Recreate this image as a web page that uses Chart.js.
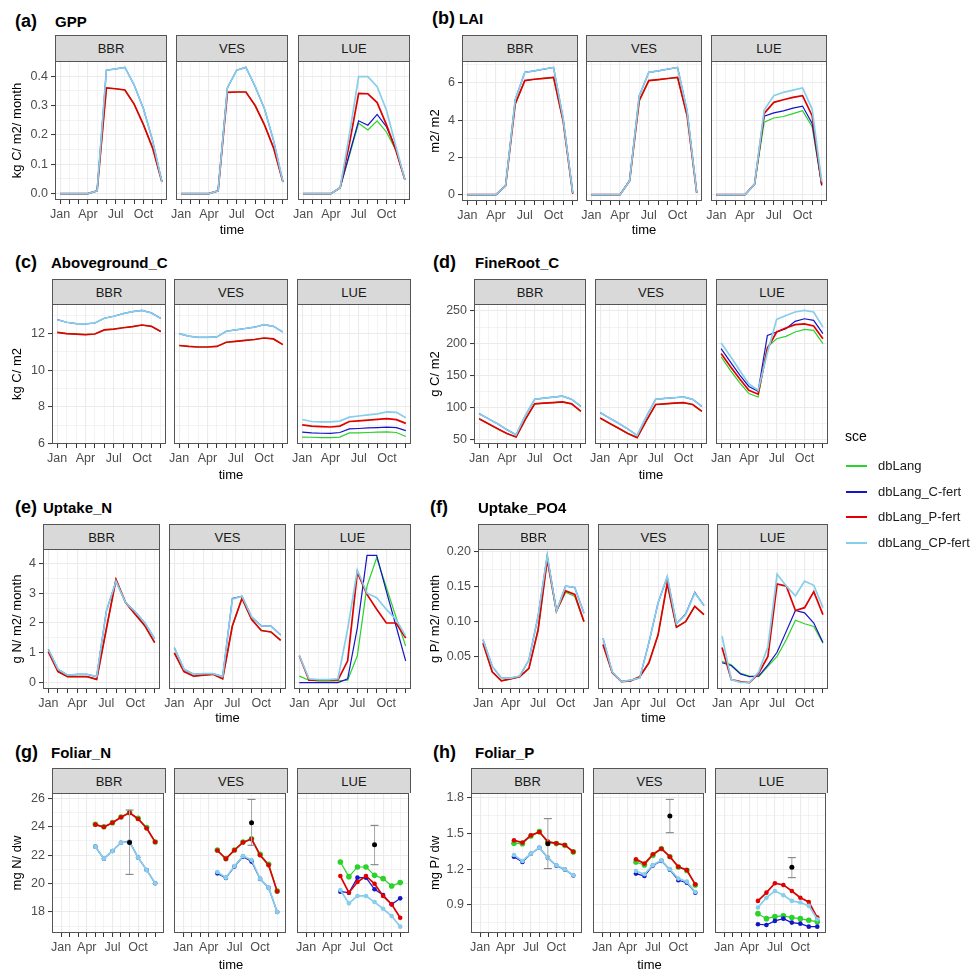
<!DOCTYPE html>
<html>
<head>
<meta charset="utf-8">
<script src="https://cdn.jsdelivr.net/npm/chart.js@4.4.1/dist/chart.umd.min.js"></script>
<style>
  body { margin: 0; background: #fff; font-family: "Liberation Sans", Arial, sans-serif; }
  #page { position: relative; width: 976px; height: 974px; overflow: hidden; }
  #page canvas { position: absolute; }
  .tag { position: absolute; font-weight: bold; font-size: 18px; line-height: 20px; color: #000; }
  .ttl { position: absolute; font-weight: bold; font-size: 15px; line-height: 18px; color: #000; }
  .strip { position: absolute; box-sizing: border-box; background: #d9d9d9; border: 1px solid #555; border-bottom: none;
           text-align: center; font-size: 13px; color: #1a1a1a; }
  .xt { position: absolute; font-size: 13px; line-height: 16px; color: #000; transform: translateX(-50%); }
  .leg { position: absolute; font-size: 13px; line-height: 16px; color: #1a1a1a; }
  .key { position: absolute; width: 21px; height: 2px; }
</style>
</head>
<body>
<div id="page"></div>
<script>
// ---- data ----
const months = ['Jan', 'Feb', 'Mar', 'Apr', 'May', 'Jun', 'Jul', 'Aug', 'Sep', 'Oct', 'Nov', 'Dec'];
const monthLabels = ['Jan', '', '', 'Apr', '', '', 'Jul', '', '', 'Oct', '', ''];
const sites = ['BBR', 'VES', 'LUE'];
const scenarios = ['dbLang', 'dbLang_C-fert', 'dbLang_P-fert', 'dbLang_CP-fert'];
const foliarMonths = [4, 5, 6, 7, 8, 9, 10, 11];
const obsMonth = 8;

// each site: rows dbLang, C-fert, P-fert, CP-fert
const gppBBR = [
  [0, 0, 0, 0, 0.01, 0.36, 0.357, 0.353, 0.305, 0.235, 0.155, 0.04],
  [0, 0, 0, 0, 0.01, 0.42, 0.425, 0.43, 0.37, 0.29, 0.18, 0.04],
  [0, 0, 0, 0, 0.01, 0.36, 0.357, 0.353, 0.305, 0.235, 0.155, 0.04],
  [0, 0, 0, 0, 0.01, 0.42, 0.425, 0.43, 0.37, 0.29, 0.18, 0.04]];
const gppVES = [
  [0, 0, 0, 0, 0.01, 0.345, 0.346, 0.346, 0.3, 0.235, 0.155, 0.04],
  [0, 0, 0, 0, 0.01, 0.36, 0.42, 0.43, 0.365, 0.29, 0.18, 0.04],
  [0, 0, 0, 0, 0.01, 0.345, 0.346, 0.346, 0.3, 0.235, 0.155, 0.04],
  [0, 0, 0, 0, 0.01, 0.36, 0.42, 0.43, 0.365, 0.29, 0.18, 0.04]];
const gppLUE = [
  [0, 0, 0, 0, 0.02, 0.13, 0.24, 0.217, 0.248, 0.21, 0.15, 0.047],
  [0, 0, 0, 0, 0.02, 0.135, 0.248, 0.233, 0.27, 0.228, 0.155, 0.047],
  [0, 0, 0, 0, 0.02, 0.17, 0.341, 0.34, 0.31, 0.235, 0.15, 0.047],
  [0, 0, 0, 0, 0.02, 0.2, 0.398, 0.398, 0.364, 0.285, 0.165, 0.047]];
const gppTicks = ['0.0', '0.1', '0.2', '0.3', '0.4'];

const laiBBR = [
  [0, 0, 0, 0, 0.48, 4.87, 6.13, 6.2, 6.25, 6.3, 3.95, 0.05],
  [0, 0, 0, 0, 0.48, 5.1, 6.57, 6.65, 6.75, 6.84, 4.1, 0.09],
  [0, 0, 0, 0, 0.48, 4.87, 6.13, 6.2, 6.25, 6.3, 3.95, 0.05],
  [0, 0, 0, 0, 0.48, 5.1, 6.57, 6.65, 6.75, 6.84, 4.1, 0.09]];
const laiVES = [
  [0, 0, 0, 0, 0.75, 5.05, 6.13, 6.18, 6.24, 6.3, 4.24, 0.1],
  [0, 0, 0, 0, 0.75, 5.3, 6.57, 6.65, 6.75, 6.84, 4.5, 0.1],
  [0, 0, 0, 0, 0.75, 5.05, 6.13, 6.18, 6.24, 6.3, 4.24, 0.1],
  [0, 0, 0, 0, 0.75, 5.3, 6.57, 6.65, 6.75, 6.84, 4.5, 0.1]];
const laiLUE = [
  [0, 0, 0, 0, 0.57, 3.89, 4.12, 4.2, 4.35, 4.51, 3.65, 0.5],
  [0, 0, 0, 0, 0.57, 4.21, 4.39, 4.5, 4.65, 4.76, 3.83, 0.5],
  [0, 0, 0, 0, 0.57, 4.37, 4.96, 5.1, 5.23, 5.32, 4.24, 0.55],
  [0, 0, 0, 0, 0.57, 4.55, 5.32, 5.5, 5.62, 5.73, 4.6, 0.7]];
const laiTicks = ['0', '2', '4', '6'];

const agcBBR = [
  [12.07, 12.0, 11.97, 11.95, 11.98, 12.2, 12.25, 12.32, 12.38, 12.47, 12.4, 12.11],
  [12.76, 12.62, 12.55, 12.53, 12.58, 12.84, 12.95, 13.09, 13.2, 13.27, 13.13, 12.82],
  [12.07, 12.0, 11.97, 11.95, 11.98, 12.2, 12.25, 12.32, 12.38, 12.47, 12.4, 12.11],
  [12.76, 12.62, 12.55, 12.53, 12.58, 12.84, 12.95, 13.09, 13.2, 13.27, 13.13, 12.82]];
const agcVES = [
  [11.35, 11.3, 11.27, 11.27, 11.3, 11.53, 11.58, 11.63, 11.68, 11.76, 11.71, 11.4],
  [12.0, 11.86, 11.8, 11.8, 11.82, 12.13, 12.2, 12.28, 12.35, 12.49, 12.4, 12.09],
  [11.35, 11.3, 11.27, 11.27, 11.3, 11.53, 11.58, 11.63, 11.68, 11.76, 11.71, 11.4],
  [12.0, 11.86, 11.8, 11.8, 11.82, 12.13, 12.2, 12.28, 12.35, 12.49, 12.4, 12.09]];
const agcLUE = [
  [6.35, 6.34, 6.32, 6.32, 6.35, 6.58, 6.58, 6.6, 6.62, 6.63, 6.6, 6.38],
  [6.62, 6.58, 6.56, 6.55, 6.6, 6.8, 6.82, 6.85, 6.87, 6.89, 6.87, 6.7],
  [7.02, 6.95, 6.92, 6.9, 6.95, 7.2, 7.24, 7.28, 7.32, 7.36, 7.3, 7.1],
  [7.31, 7.2, 7.18, 7.18, 7.22, 7.44, 7.5, 7.56, 7.62, 7.73, 7.7, 7.4]];
const agcTicks = ['6', '8', '10', '12'];

const frcBBR = [
  [83, 75, 67.5, 60, 54.6, 82, 106, 107, 108, 109, 106, 94.4],
  [90.8, 83, 75, 66, 58, 88, 113, 115, 116.5, 118, 113, 102],
  [83, 75, 67.5, 60, 54.6, 82, 106, 107, 108, 109, 106, 94.4],
  [90.8, 83, 75, 66, 58, 88, 113, 115, 116.5, 118, 113, 102]];
const frcVES = [
  [84, 76, 68, 60, 53.6, 80, 105, 106, 107, 108, 105, 94.4],
  [92.4, 84, 76, 67, 57, 86, 113, 114.5, 115.5, 116.7, 113, 102],
  [84, 76, 68, 60, 53.6, 80, 105, 106, 107, 108, 105, 94.4],
  [92.4, 84, 76, 67, 57, 86, 113, 114.5, 115.5, 116.7, 113, 102]];
const frcLUE = [
  [179, 158, 139, 122, 116.7, 194, 207, 210.7, 217.4, 221.6, 220, 199.4],
  [191.6, 171, 151, 133, 125.5, 212, 217.4, 222.6, 234, 238, 235.5, 215],
  [184, 164, 145, 127, 121, 191.6, 217.4, 223.6, 228.8, 230, 226.7, 207],
  [200.4, 180, 158, 137, 127, 185, 237, 243, 248.5, 251, 248.5, 225]];
const frcTicks = ['50', '100', '150', '200', '250'];

const upnBBR = [
  [1.04, 0.37, 0.2, 0.2, 0.2, 0.11, 1.8, 3.46, 2.68, 2.29, 1.9, 1.34],
  [1.12, 0.45, 0.25, 0.28, 0.28, 0.2, 2.4, 3.4, 2.68, 2.37, 2.0, 1.47],
  [1.04, 0.37, 0.2, 0.2, 0.2, 0.11, 1.8, 3.46, 2.68, 2.29, 1.9, 1.34],
  [1.12, 0.45, 0.25, 0.28, 0.28, 0.2, 2.4, 3.4, 2.68, 2.37, 2.0, 1.47]];
const upnVES = [
  [1.0, 0.37, 0.22, 0.25, 0.28, 0.13, 1.9, 2.83, 2.12, 1.75, 1.7, 1.42],
  [1.17, 0.45, 0.28, 0.3, 0.3, 0.2, 2.82, 2.9, 2.2, 1.9, 1.9, 1.6],
  [1.0, 0.37, 0.22, 0.25, 0.28, 0.13, 1.9, 2.83, 2.12, 1.75, 1.7, 1.42],
  [1.17, 0.45, 0.28, 0.3, 0.3, 0.2, 2.8, 2.9, 2.2, 1.9, 1.9, 1.6]];
const upnLUE = [
  [0.22, 0.08, 0.05, 0.05, 0.06, 0.08, 0.9, 3.24, 4.19, 3.2, 2.2, 1.23],
  [0.0, 0.0, 0.0, 0.0, 0.0, 0.13, 1.84, 4.27, 4.27, 3.07, 1.9, 0.73],
  [0.9, 0.08, 0.08, 0.08, 0.09, 0.73, 3.7, 2.96, 2.46, 2.0, 2.0, 1.5],
  [0.92, 0.13, 0.1, 0.1, 0.13, 1.8, 3.78, 3.0, 2.85, 2.46, 2.12, 1.56]];
const upnTicks = ['0', '1', '2', '3', '4'];

const uppBBR = [
  [0.069, 0.028, 0.015, 0.018, 0.021, 0.033, 0.088, 0.189, 0.115, 0.142, 0.136, 0.1],
  [0.074, 0.036, 0.019, 0.019, 0.022, 0.045, 0.108, 0.195, 0.115, 0.151, 0.149, 0.112],
  [0.069, 0.028, 0.015, 0.018, 0.021, 0.033, 0.088, 0.189, 0.115, 0.144, 0.139, 0.1],
  [0.074, 0.036, 0.019, 0.019, 0.022, 0.045, 0.108, 0.195, 0.115, 0.151, 0.149, 0.112]];
const uppVES = [
  [0.067, 0.027, 0.014, 0.015, 0.021, 0.041, 0.081, 0.155, 0.092, 0.1, 0.122, 0.11],
  [0.076, 0.028, 0.014, 0.016, 0.019, 0.07, 0.127, 0.164, 0.097, 0.111, 0.142, 0.123],
  [0.067, 0.027, 0.014, 0.015, 0.021, 0.041, 0.081, 0.155, 0.092, 0.1, 0.122, 0.11],
  [0.076, 0.028, 0.014, 0.016, 0.019, 0.07, 0.127, 0.165, 0.097, 0.11, 0.141, 0.123]];
const uppLUE = [
  [0.043, 0.038, 0.026, 0.022, 0.021, 0.036, 0.05, 0.074, 0.102, 0.097, 0.093, 0.069],
  [0.041, 0.037, 0.025, 0.021, 0.022, 0.038, 0.056, 0.086, 0.116, 0.1125, 0.098, 0.07],
  [0.063, 0.017, 0.014, 0.0125, 0.026, 0.05, 0.154, 0.151, 0.116, 0.12, 0.143, 0.11],
  [0.079, 0.017, 0.013, 0.013, 0.028, 0.064, 0.168, 0.151, 0.137, 0.158, 0.152, 0.12]];
const uppTicks = ['0.05', '0.10', '0.15', '0.20'];

// foliar: May..Dec
const folnBBR = [
  [24.17, 24.0, 24.29, 24.69, 25.0, 24.6, 23.94, 22.93],
  [22.6, 21.75, 22.3, 22.88, 22.95, 21.83, 20.96, 20.02],
  [24.15, 23.98, 24.28, 24.67, 24.98, 24.55, 23.9, 22.93],
  [22.6, 21.75, 22.3, 22.88, 22.95, 21.83, 20.96, 20.02]];
const folnVES = [
  [22.37, 21.76, 22.37, 22.93, 23.16, 22.06, 21.36, 19.48],
  [20.72, 20.4, 21.2, 21.9, 21.55, 20.33, 19.7, 18.0],
  [22.33, 21.74, 22.35, 22.9, 23.14, 22.0, 21.3, 19.45],
  [20.82, 20.42, 21.24, 21.94, 21.66, 20.35, 19.71, 18.0]];
const folnLUE = [
  [21.52, 20.49, 21.17, 21.17, 20.58, 20.35, 19.83, 20.07],
  [19.43, 19.36, 20.42, 20.42, 19.6, 19.2, 18.54, 18.96],
  [20.53, 19.36, 20.11, 20.53, 19.99, 19.13, 18.54, 17.6],
  [19.55, 18.61, 19.13, 19.13, 18.7, 18.23, 17.72, 16.97]];
const folnTicks = ['18', '20', '22', '24', '26'];
const folnObs = [22.9, 24.29, 22.74];
const folnObsLo = [20.65, 22.7, 21.33];
const folnObsHi = [25.18, 25.93, 24.1];

const folpBBR = [
  [1.417, 1.414, 1.479, 1.515, 1.423, 1.415, 1.4, 1.345],
  [1.305, 1.26, 1.33, 1.38, 1.295, 1.23, 1.198, 1.147],
  [1.442, 1.423, 1.484, 1.512, 1.431, 1.417, 1.403, 1.347],
  [1.319, 1.269, 1.33, 1.381, 1.297, 1.233, 1.2, 1.149]];
const folpVES = [
  [1.26, 1.235, 1.316, 1.372, 1.305, 1.218, 1.19, 1.068],
  [1.163, 1.143, 1.232, 1.27, 1.195, 1.107, 1.087, 1.003],
  [1.283, 1.247, 1.325, 1.372, 1.305, 1.221, 1.193, 1.073],
  [1.185, 1.157, 1.235, 1.274, 1.199, 1.121, 1.096, 1.009]];
const folpLUE = [
  [0.827, 0.785, 0.802, 0.808, 0.794, 0.785, 0.771, 0.76],
  [0.738, 0.732, 0.766, 0.785, 0.752, 0.743, 0.718, 0.718],
  [0.934, 1.003, 1.082, 1.068, 1.017, 0.961, 0.925, 0.794],
  [0.878, 0.961, 1.017, 0.981, 0.934, 0.92, 0.892, 0.78]];
const folpTicks = ['0.9', '1.2', '1.5', '1.8'];
const folpObs = [1.414, 1.646, 1.216];
const folpObsLo = [1.205, 1.506, 1.129];
const folpObsHi = [1.624, 1.786, 1.297];

// ---- layout / styling ----
const FONT = '"Liberation Sans", Arial, sans-serif';
const colors = ['#2ad22a', '#1414c8', '#e00000', '#87ceeb'];
const drawOrder = [4, 3, 2, 1];       // CP-fert on top, dbLang at the bottom
const lineWidths = [1.2, 1.2, 1.7, 1.7]; // lower lines a bit thinner so the covering ones hide them

const panels = [
  { tag: '(a)', name: 'GPP', ytitle: 'kg C/ m2/ month', ticks: gppTicks, data: [gppBBR, gppVES, gppLUE],
    col: 0, tagX: 15, nameX: 55, labelY: 11, lefts: [55, 176, 298], w: 112, strip: 35, top: 61, bottom: 200, timeY: 222 },
  { tag: '(b)', name: 'LAI', ytitle: 'm2/ m2', ticks: laiTicks, data: [laiBBR, laiVES, laiLUE],
    col: 1, tagX: 432, nameX: 459, labelY: 8, lefts: [462, 586, 711], w: 116, strip: 35, top: 61, bottom: 201, timeY: 222 },
  { tag: '(c)', name: 'Aboveground_C', ytitle: 'kg C/ m2', ticks: agcTicks, data: [agcBBR, agcVES, agcLUE],
    col: 0, tagX: 15, nameX: 51, labelY: 252, lefts: [52, 174, 297], w: 114, strip: 279, top: 304, bottom: 444, timeY: 467 },
  { tag: '(d)', name: 'FineRoot_C', ytitle: 'g C/ m2', ticks: frcTicks, data: [frcBBR, frcVES, frcLUE],
    col: 1, tagX: 433, nameX: 475, labelY: 252, lefts: [474, 595, 716], w: 112, strip: 279, top: 304, bottom: 444, timeY: 467 },
  { tag: '(e)', name: 'Uptake_N', ytitle: 'g N/ m2/ month', ticks: upnTicks, data: [upnBBR, upnVES, upnLUE],
    col: 0, tagX: 15, nameX: 43, labelY: 497, lefts: [43, 169, 294], w: 117, strip: 524, top: 549, bottom: 689, timeY: 710 },
  { tag: '(f)', name: 'Uptake_PO4', ytitle: 'g P/ m2/ month', ticks: uppTicks, data: [uppBBR, uppVES, uppLUE],
    col: 1, tagX: 430, nameX: 478, labelY: 497, lefts: [478, 598, 717], w: 111, strip: 524, top: 549, bottom: 689, timeY: 710 },
  { tag: '(g)', name: 'Foliar_N', ytitle: 'mg N/ dw', ticks: folnTicks, data: [folnBBR, folnVES, folnLUE],
    obs: folnObs, obsLo: folnObsLo, obsHi: folnObsHi,
    col: 0, tagX: 15, nameX: 51, labelY: 742, lefts: [52, 174, 297], w: 114, strip: 768, top: 793, bottom: 933, timeY: 957 },
  { tag: '(h)', name: 'Foliar_P', ytitle: 'mg P/ dw', ticks: folpTicks, data: [folpBBR, folpVES, folpLUE],
    obs: folpObs, obsLo: folpObsLo, obsHi: folpObsHi,
    col: 1, tagX: 433, nameX: 475, labelY: 742, lefts: [471, 593, 715], w: 113, strip: 768, top: 793, bottom: 933, timeY: 957 }
];

const page = document.getElementById('page');

function addDiv(cls, text, css) {
  const d = document.createElement('div');
  d.className = cls;
  d.textContent = text;
  Object.assign(d.style, css);
  page.appendChild(d);
  return d;
}

// ggplot-like 5% expansion of the data range
function expandRange(vals) {
  const lo = Math.min(...vals), hi = Math.max(...vals), d = (hi - lo) * 0.05;
  return [lo - d, hi + d];
}

const framePlugin = {
  id: 'frame',
  afterDraw(chart) {
    const { ctx, chartArea: a } = chart;
    ctx.save();
    ctx.strokeStyle = '#555';
    ctx.lineWidth = 1;
    ctx.strokeRect(Math.round(a.left) + 0.5, Math.round(a.top) + 0.5,
      Math.round(a.right - a.left) - 1, Math.round(a.bottom - a.top) - 1);
    ctx.restore();
  }
};

function makeFacet(p, f, yMin, yMax, yVals, majors) {
  const cs = p.col ? 420 : 0;
  const cl = f === 0 ? cs : p.lefts[f] - 6;
  const yw = p.lefts[f] - cl;
  const cw = p.lefts[f] + p.w + 3 - cl;
  const ch = p.bottom - p.top + 6 + 24;
  const cv = document.createElement('canvas');
  cv.width = cw; cv.height = ch;
  cv.style.left = cl + 'px'; cv.style.top = (p.top - 6) + 'px';
  page.appendChild(cv);

  const foliar = !!p.obs;
  const xs = foliar ? foliarMonths : months.map((m, i) => i);
  const isMajor = v => majors.some(m => Math.abs(m - v) < 1e-9);
  const labelOf = v => { const i = majors.findIndex(m => Math.abs(m - v) < 1e-9); return i >= 0 ? p.ticks[i] : ''; };

  const datasets = p.data[f].map((row, s) => ({
    label: scenarios[s],
    data: row.map((v, i) => ({ x: xs[i], y: v })),
    borderColor: colors[s],
    backgroundColor: colors[s],
    borderWidth: lineWidths[s],
    pointRadius: foliar ? (s === 0 ? 2.8 : 2.3) : 0,
    pointBorderWidth: 0,
    order: drawOrder[s]
  }));
  if (foliar) {
    datasets.push({
      label: 'obs range',
      data: [{ x: obsMonth, y: p.obsLo[f] }, { x: obsMonth, y: p.obsHi[f] }],
      borderColor: '#a8a8a8', borderWidth: 1,
      pointStyle: 'line', pointRadius: 4, pointBorderColor: '#777', pointBorderWidth: 1,
      order: 0
    });
    datasets.push({
      label: 'obs',
      data: [{ x: obsMonth, y: p.obs[f] }],
      showLine: false, pointRadius: 2.5, pointBackgroundColor: '#000', pointBorderWidth: 0,
      order: -1
    });
  }

  new Chart(cv.getContext('2d'), {
    type: 'line',
    data: { datasets },
    options: {
      responsive: false, animation: false, devicePixelRatio: 1,
      layout: { padding: { top: 6, right: 3, left: 0, bottom: 0 } },
      plugins: { legend: { display: false }, tooltip: { enabled: false } },
      elements: { line: { tension: 0 } },
      scales: {
        x: {
          type: 'linear',
          min: foliar ? -1.07 : -0.55,
          max: foliar ? 12.03 : 11.55,
          afterBuildTicks: s => { s.ticks = months.map((m, i) => ({ value: i })); },
          afterFit: s => { s.height = 24; s.paddingLeft = 0; s.paddingRight = 0; },
          ticks: { autoSkip: false, maxRotation: 0, padding: 3, color: '#4d4d4d',
                   font: { size: 12.5, family: FONT }, callback: v => monthLabels[v] || '' },
          grid: { color: '#ebebeb', lineWidth: c => (c.tick && monthLabels[c.tick.value]) ? 1.1 : 0.6,
                  tickColor: '#333', tickWidth: 1, tickLength: 4 },
          border: { display: false }
        },
        y: {
          type: 'linear', min: yMin, max: yMax,
          afterBuildTicks: s => { s.ticks = yVals.map(v => ({ value: v })); },
          afterFit: s => { s.width = yw; s.paddingTop = 0; s.paddingBottom = 0; },
          ticks: { display: f === 0, autoSkip: false, padding: 3, color: '#4d4d4d',
                   font: { size: 12.5, family: FONT }, callback: v => labelOf(v) },
          grid: { color: '#ebebeb', lineWidth: c => (c.tick && isMajor(c.tick.value)) ? 1.1 : 0.6,
                  drawTicks: f === 0, tickLength: 4, tickWidth: 1,
                  tickColor: c => (c.tick && isMajor(c.tick.value)) ? '#333' : 'rgba(0,0,0,0)' },
          border: { display: false },
          title: { display: f === 0, text: p.ytitle, color: '#000', font: { size: 13, family: FONT },
                   padding: { top: p.col ? 8 : 10, bottom: 0 } }
        }
      }
    },
    plugins: [framePlugin]
  });
}

panels.forEach(p => {
  addDiv('tag', p.tag, { left: p.tagX + 'px', top: p.labelY + 'px' });
  addDiv('ttl', p.name, { left: p.nameX + 'px', top: (p.labelY + 2) + 'px' });

  const all = p.data.flat(2).concat(p.obsLo || [], p.obsHi || []);
  const [yMin, yMax] = expandRange(all);
  const majors = p.ticks.map(Number);
  const step = majors[1] - majors[0];
  const minors = [majors[0] - step / 2].concat(majors.map(m => m + step / 2))
    .filter(v => v > yMin && v < yMax);
  const yVals = majors.concat(minors).sort((a, b) => a - b);

  sites.forEach((site, f) => {
    addDiv('strip', site, { left: p.lefts[f] + 'px', top: p.strip + 'px', width: p.w + 'px',
      height: (p.top - p.strip) + 'px', lineHeight: (p.top - p.strip) + 'px' });
    makeFacet(p, f, yMin, yMax, yVals, majors);
  });
  addDiv('xt', 'time', { left: (p.lefts[1] + p.w / 2) + 'px', top: p.timeY + 'px' });
});

// legend
addDiv('leg', 'sce', { left: '845px', top: '428px', fontSize: '14px', color: '#000' });
scenarios.forEach((s, i) => {
  const y = [466, 492, 517, 543][i];
  addDiv('key', '', { left: '846px', top: (y - 1) + 'px', background: colors[i] });
  addDiv('leg', s, { left: '878px', top: (y - 8) + 'px' });
});
</script>
</body>
</html>
